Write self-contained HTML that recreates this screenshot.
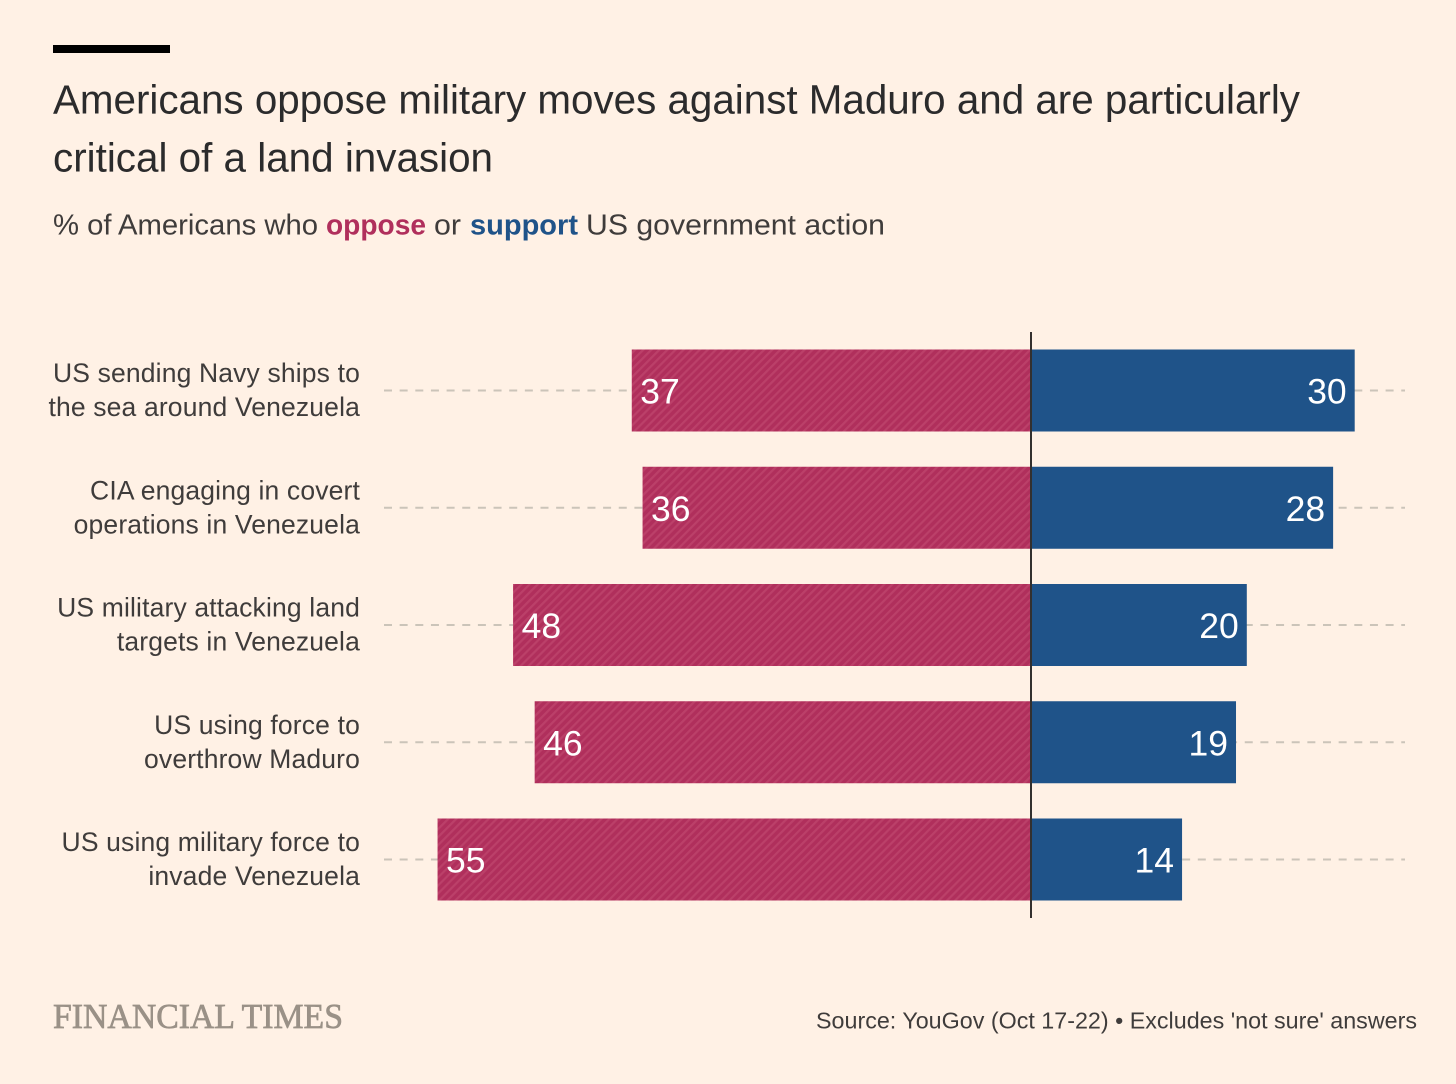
<!DOCTYPE html>
<html lang="en">
<head>
<meta charset="utf-8">
<title>Americans oppose military moves against Maduro</title>
<style>
html,body{margin:0;padding:0;background:#fff1e5;}
svg{display:block;font-family:"Liberation Sans",sans-serif;}
</style>
</head>
<body>
<svg id="chart" width="1456" height="1084" viewBox="0 0 1456 1084" xmlns="http://www.w3.org/2000/svg">
  <defs>
    <pattern id="hatch" patternUnits="userSpaceOnUse" width="5.7" height="5.7" patternTransform="rotate(-45)">
      <rect width="5.7" height="5.7" fill="#b02f5c"/>
      <rect width="5.7" height="2.2" fill="#bb4069"/>
    </pattern>
  </defs>
  <rect x="0" y="0" width="1456" height="1084" fill="#fff1e5"/>
  <rect x="53" y="45" width="117" height="8" fill="#000"/>
  <text x="53" y="113.5" font-size="41" fill="#2b2b2c" textLength="1247" lengthAdjust="spacingAndGlyphs">Americans oppose military moves against Maduro and are particularly</text>
  <text x="53" y="171.5" font-size="41" fill="#2b2b2c" textLength="440" lengthAdjust="spacingAndGlyphs">critical of a land invasion</text>
  <g font-size="29" fill="#3f3c3b">
    <text x="53" y="234.5" textLength="265" lengthAdjust="spacingAndGlyphs">% of Americans who</text>
    <text x="326" y="234.5" font-weight="bold" fill="#b02f5c" textLength="100" lengthAdjust="spacingAndGlyphs">oppose</text>
    <text x="434" y="234.5" textLength="27" lengthAdjust="spacingAndGlyphs">or</text>
    <text x="470" y="234.5" font-weight="bold" fill="#1f5389" textLength="108" lengthAdjust="spacingAndGlyphs">support</text>
    <text x="586" y="234.5" textLength="299" lengthAdjust="spacingAndGlyphs">US government action</text>
  </g>
  <g id="gridlines"></g>
  <g id="bars"></g>
  <g id="labels"></g>
  <g id="values"></g>
  <rect x="1030" y="332" width="2" height="586" fill="#33302e"/>
  <text x="53" y="1028" font-family="'Liberation Serif',serif" font-size="35" fill="#9a9187" stroke="#9a9187" stroke-width="0.7" textLength="290" lengthAdjust="spacingAndGlyphs">FINANCIAL TIMES</text>
  <text x="816" y="1028.5" font-size="23.5" fill="#3f3c3b" textLength="601" lengthAdjust="spacingAndGlyphs">Source: YouGov (Oct 17-22) • Excludes 'not sure' answers</text>
</svg>
<script>
const categories = [
  "US sending Navy ships to|the sea around Venezuela",
  "CIA engaging in covert|operations in Venezuela",
  "US military attacking land|targets in Venezuela",
  "US using force to|overthrow Maduro",
  "US using military force to|invade Venezuela"
];
const oppose = [37, 36, 48, 46, 55];
const support = [30, 28, 20, 19, 14];

const NS = "http://www.w3.org/2000/svg";
const zeroX = 1031;
const unitPx = 10.79;
const firstRowY = 390.5;
const rowStep = 117.25;
const barHeight = 82;
const gridLeft = 384;
const gridRight = 1405;

function xScale(v) { return zeroX + v * unitPx; }
function yScale(i) { return firstRowY + i * rowStep; }

const gridGroup = document.getElementById("gridlines");
const barGroup = document.getElementById("bars");
const labelGroup = document.getElementById("labels");
const valueGroup = document.getElementById("values");

categories.forEach(function (category, i) {
  const cy = yScale(i);

  const grid = document.createElementNS(NS, "line");
  grid.setAttribute("x1", gridLeft);
  grid.setAttribute("x2", gridRight);
  grid.setAttribute("y1", cy);
  grid.setAttribute("y2", cy);
  grid.setAttribute("stroke", "#cbc4b9");
  grid.setAttribute("stroke-width", "2");
  grid.setAttribute("stroke-dasharray", "8 7.65");
  
  
  gridGroup.appendChild(grid);

  const opposeBar = document.createElementNS(NS, "rect");
  opposeBar.setAttribute("x", xScale(-oppose[i]));
  opposeBar.setAttribute("y", cy - barHeight / 2);
  opposeBar.setAttribute("width", xScale(0) - xScale(-oppose[i]));
  opposeBar.setAttribute("height", barHeight);
  opposeBar.setAttribute("fill", "url(#hatch)");
  
  
  barGroup.appendChild(opposeBar);

  const supportBar = document.createElementNS(NS, "rect");
  supportBar.setAttribute("x", xScale(0));
  supportBar.setAttribute("y", cy - barHeight / 2);
  supportBar.setAttribute("width", xScale(support[i]) - xScale(0));
  supportBar.setAttribute("height", barHeight);
  supportBar.setAttribute("fill", "#1f5389");
  
  
  barGroup.appendChild(supportBar);

  category.split("|").forEach(function (line, j) {
    const label = document.createElementNS(NS, "text");
    label.setAttribute("x", 360);
    label.setAttribute("y", cy - 8.5 + j * 34);
    label.setAttribute("text-anchor", "end");
    label.setAttribute("font-size", "26.5");
    label.setAttribute("letter-spacing", "0.15");
    label.setAttribute("fill", "#3f3c3b");
    label.textContent = line;
    
    
    labelGroup.appendChild(label);
  });

  const opposeValue = document.createElementNS(NS, "text");
  opposeValue.setAttribute("x", xScale(-oppose[i]) + 8.5);
  opposeValue.setAttribute("y", cy + 13);
  opposeValue.setAttribute("font-size", "35.5");
  opposeValue.setAttribute("fill", "#fff");
  opposeValue.textContent = oppose[i];
  
  
  valueGroup.appendChild(opposeValue);

  const supportValue = document.createElementNS(NS, "text");
  supportValue.setAttribute("x", xScale(support[i]) - 8);
  supportValue.setAttribute("y", cy + 13);
  supportValue.setAttribute("text-anchor", "end");
  supportValue.setAttribute("font-size", "35.5");
  supportValue.setAttribute("fill", "#fff");
  supportValue.textContent = support[i];
  
  
  valueGroup.appendChild(supportValue);
});
</script>
</body>
</html>
